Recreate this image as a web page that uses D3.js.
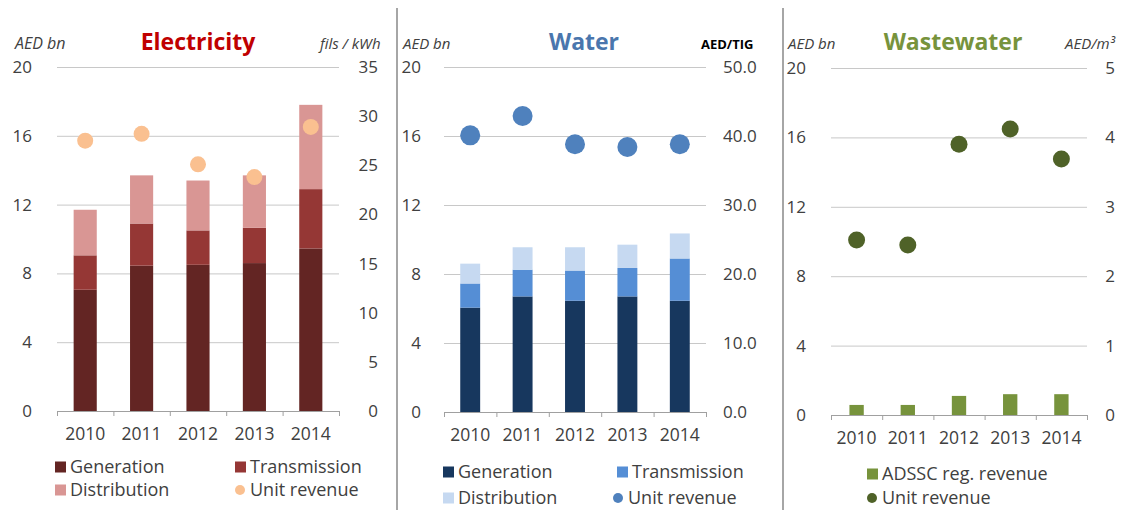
<!DOCTYPE html>
<html>
<head>
<meta charset="utf-8">
<script src="https://cdn.jsdelivr.net/npm/d3@7"></script>
<style>
  body { margin: 0; background: #fff; }
  svg { font-family: "Open Sans", sans-serif; }
  .tick text { fill: #404040; }
</style>
</head>
<body>
<div id="chart"></div>
<script>
// categories shared by the three panels
const years = ["2010", "2011", "2012", "2013", "2014"];

// electricity (AED bn, stacked) and unit revenue (fils/kWh)
const elecGeneration = [7.05, 8.45, 8.5, 8.6, 9.45];
const elecTransmission = [2.0, 2.45, 2.0, 2.05, 3.45];
const elecDistribution = [2.65, 2.8, 2.9, 3.05, 4.9];
const elecUnitRevenue = [27.5, 28.2, 25.1, 23.8, 28.9];

// water (AED bn, stacked) and unit revenue (AED/TIG)
const waterGeneration = [6.05, 6.7, 6.45, 6.7, 6.45];
const waterTransmission = [1.4, 1.55, 1.75, 1.65, 2.45];
const waterDistribution = [1.15, 1.3, 1.35, 1.35, 1.45];
const waterUnitRevenue = [40.1, 42.9, 38.8, 38.4, 38.8];

// wastewater (AED bn) and unit revenue (AED/m3)
const wasteRevenue = [0.58, 0.58, 1.1, 1.2, 1.2];
const wasteUnitRevenue = [2.52, 2.45, 3.9, 4.12, 3.69];

// tick labels
const leftTicks = [0, 4, 8, 12, 16, 20];
const elecRightTicks = [0, 5, 10, 15, 20, 25, 30, 35];
const waterRightTicks = [0, 10, 20, 30, 40, 50];
const wasteRightTicks = [0, 1, 2, 3, 4, 5];

const svg = d3
  .select("#chart")
  .append("svg")
  .attr("width", 1124)
  .attr("height", 510);

// panel separators
svg.selectAll(".sep")
  .data([397, 783])
  .enter()
  .append("line")
  .attr("x1", (d) => d).attr("x2", (d) => d)
  .attr("y1", 8).attr("y2", 510)
  .attr("stroke", "#a6a6a6")
  .attr("stroke-width", 2);

function drawPanel(p) {
  // bars sit in bands, ticks on the band boundaries
  const xScale = d3
    .scaleBand()
    .domain(years)
    .range([p.left, p.right])
    .paddingInner(p.pad)
    .paddingOuter(p.pad / 2);

  const yScale = d3.scaleLinear().domain([0, 20]).range([p.bottom, p.top]);
  const yRight = d3.scaleLinear().domain([0, p.rightMax]).range([p.bottom, p.top]);

  // gridlines
  svg.append("g")
    .attr("transform", `translate(${p.left},0)`)
    .call(d3.axisLeft(yScale).tickValues([4, 8, 12, 16, 20]).tickSize(-(p.right - p.left)).tickFormat(""))
    .call((g) => g.select(".domain").remove())
    .selectAll("line")
    .attr("stroke", "#c8c8c8");

  // stacked bars
  const rows = years.map((y, i) => {
    const row = { year: y };
    p.series.forEach((s) => (row[s.name] = s.values[i]));
    return row;
  });
  const stacked = d3.stack().keys(p.series.map((s) => s.name))(rows);

  svg.append("g")
    .selectAll("g")
    .data(stacked)
    .enter()
    .append("g")
    .attr("fill", (d, i) => p.series[i].color)
    .selectAll("rect")
    .data((d) => d)
    .enter()
    .append("rect")
    .attr("x", (d) => xScale(d.data.year))
    .attr("y", (d) => yScale(d[1]))
    .attr("width", xScale.bandwidth())
    .attr("height", (d) => yScale(d[0]) - yScale(d[1]));

  // x axis line with boundary ticks
  const edgeScale = d3.scaleLinear().domain([0, years.length]).range([p.left, p.right]);
  const xEdge = svg.append("g")
    .attr("transform", `translate(0,${p.bottom})`)
    .call(d3.axisBottom(edgeScale).ticks(years.length).tickSize(5).tickFormat("").tickSizeOuter(5));
  xEdge.selectAll("line,path").attr("stroke", "#a0a0a0");

  // year labels
  const xAxis = svg.append("g")
    .attr("transform", `translate(0,${p.bottom})`)
    .call(d3.axisBottom(xScale).tickSize(0).tickPadding(17));
  xAxis.select(".domain").remove();
  xAxis.selectAll("text").style("font-size", "17.5px").attr("font-family", "Open Sans");

  // left labels
  const yAxis = svg.append("g")
    .attr("transform", `translate(${p.leftLabelX},0)`)
    .call(d3.axisLeft(yScale).tickValues(leftTicks).tickSize(0).tickPadding(0));
  yAxis.select(".domain").remove();
  yAxis.selectAll("text").style("font-size", "17px").attr("font-family", "Open Sans");

  // right labels
  const rAxis = svg.append("g")
    .attr("transform", `translate(${p.rightLabelX},0)`)
    .call(d3.axisRight(yRight).tickValues(p.rightTicks).tickSize(0).tickPadding(0).tickFormat(p.rightFormat));
  rAxis.select(".domain").remove();
  rAxis.selectAll("text")
    .style("font-size", "17px")
    .attr("font-family", "Open Sans")
    .attr("text-anchor", p.rightAnchor);

  // unit revenue dots
  svg.append("g")
    .selectAll("circle")
    .data(p.unit)
    .enter()
    .append("circle")
    .attr("cx", (d, i) => xScale(years[i]) + xScale.bandwidth() / 2)
    .attr("cy", (d) => yRight(d))
    .attr("r", p.dotR)
    .attr("fill", p.dotColor);

  // titles and units
  svg.append("text")
    .attr("x", p.titleX).attr("y", 50)
    .attr("text-anchor", "middle")
    .style("font-size", "23px").style("font-weight", "bold")
    .attr("fill", p.titleColor)
    .text(p.title);

  svg.append("text")
    .attr("x", p.unitLeftX).attr("y", 49)
    .style("font-size", p.unitLeftSize).style("font-style", "italic")
    .attr("fill", "#404040")
    .text("AED bn");

  svg.append("text")
    .attr("x", p.unitRightX).attr("y", 49)
    .style("font-size", p.unitRightSize).style("font-style", p.unitRightStyle)
    .style("font-weight", p.unitRightWeight)
    .attr("fill", p.unitRightColor)
    .text(p.unitRight);

  // legend
  const leg = svg.append("g").selectAll("g").data(p.legend).enter().append("g");
  leg.filter((d) => d.type == "rect")
    .append("rect")
    .attr("x", (d) => d.x).attr("y", (d) => d.y - 5.5)
    .attr("width", 11).attr("height", 11)
    .attr("fill", (d) => d.color);
  leg.filter((d) => d.type == "dot")
    .append("circle")
    .attr("cx", (d) => d.x + 5).attr("cy", (d) => d.y)
    .attr("r", 5)
    .attr("fill", (d) => d.color);
  leg.append("text")
    .attr("x", (d) => d.x + 15).attr("y", (d) => d.y)
    .attr("dy", "0.35em")
    .style("font-size", "18px")
    .attr("fill", "#404040")
    .text((d) => d.label);
}

drawPanel({
  title: "Electricity", titleX: 198, titleColor: "#c00000",
  left: 57, right: 339, top: 67, bottom: 411, pad: 0.59,
  series: [
    { name: "Generation", values: elecGeneration, color: "#632523" },
    { name: "Transmission", values: elecTransmission, color: "#953735" },
    { name: "Distribution", values: elecDistribution, color: "#d99694" },
  ],
  unit: elecUnitRevenue, dotColor: "#fac090", dotR: 8,
  rightMax: 35, rightTicks: elecRightTicks, rightFormat: d3.format("d"),
  leftLabelX: 32, rightLabelX: 378, rightAnchor: "end",
  unitLeftX: 15, unitLeftSize: "16px", unitRightX: 320, unitRight: "fils / kWh",
  unitRightSize: "15px", unitRightStyle: "italic", unitRightWeight: "normal", unitRightColor: "#404040",
  legend: [
    { type: "rect", x: 55, y: 467, color: "#632523", label: "Generation" },
    { type: "rect", x: 235, y: 467, color: "#953735", label: "Transmission" },
    { type: "rect", x: 55, y: 490, color: "#d99694", label: "Distribution" },
    { type: "dot", x: 235, y: 490, color: "#fac090", label: "Unit revenue" },
  ],
});

drawPanel({
  title: "Water", titleX: 584, titleColor: "#4a76ad",
  left: 444, right: 706, top: 67, bottom: 412, pad: 0.62,
  series: [
    { name: "Generation", values: waterGeneration, color: "#17375e" },
    { name: "Transmission", values: waterTransmission, color: "#558ed5" },
    { name: "Distribution", values: waterDistribution, color: "#c6d9f1" },
  ],
  unit: waterUnitRevenue, dotColor: "#4f81bd", dotR: 10,
  rightMax: 50, rightTicks: waterRightTicks, rightFormat: d3.format(".1f"),
  leftLabelX: 421, rightLabelX: 723, rightAnchor: "start",
  unitLeftX: 403, unitLeftSize: "15px", unitRightX: 701, unitRight: "AED/TIG",
  unitRightSize: "13px", unitRightStyle: "normal", unitRightWeight: "bold", unitRightColor: "#000",
  legend: [
    { type: "rect", x: 443, y: 472, color: "#17375e", label: "Generation" },
    { type: "rect", x: 617, y: 472, color: "#558ed5", label: "Transmission" },
    { type: "rect", x: 443, y: 498, color: "#c6d9f1", label: "Distribution" },
    { type: "dot", x: 613, y: 498, color: "#4f81bd", label: "Unit revenue" },
  ],
});

drawPanel({
  title: "Wastewater", titleX: 953, titleColor: "#77933c",
  left: 831, right: 1087, top: 68, bottom: 415, pad: 0.72,
  series: [
    { name: "ADSSC reg. revenue", values: wasteRevenue, color: "#77933c" },
  ],
  unit: wasteUnitRevenue, dotColor: "#4f6228", dotR: 8.5,
  rightMax: 5, rightTicks: wasteRightTicks, rightFormat: d3.format("d"),
  leftLabelX: 806, rightLabelX: 1110, rightAnchor: "middle",
  unitLeftX: 788, unitLeftSize: "15px", unitRightX: 1065, unitRight: "AED/m³",
  unitRightSize: "15px", unitRightStyle: "italic", unitRightWeight: "normal", unitRightColor: "#404040",
  legend: [
    { type: "rect", x: 867, y: 474, color: "#77933c", label: "ADSSC reg. revenue" },
    { type: "dot", x: 867, y: 498, color: "#4f6228", label: "Unit revenue" },
  ],
});
</script>
</body>
</html>
